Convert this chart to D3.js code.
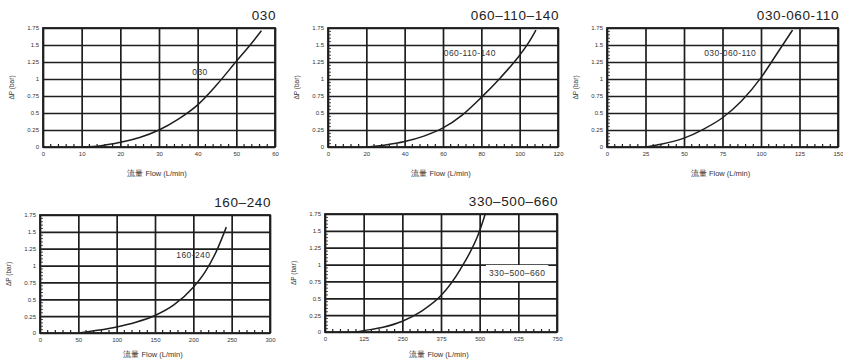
<!DOCTYPE html>
<html><head><meta charset="utf-8">
<script src="https://cdn.jsdelivr.net/npm/d3@7/dist/d3.min.js"></script>
<style>
html,body{margin:0;padding:0;background:#fff;}
svg{display:block;font-family:"Liberation Sans",Arial,sans-serif;}
</style></head>
<body><svg id="c" width="843" height="360"></svg>
<script>
// ---- data ----
const titles = ["030", "060–110–140", "030-060-110", "160–240", "330–500–660"];
const curveLabels = ["030", "060-110-140", "030-060-110", "160-240", "330–500–660"];
const yTicks = [0, 0.25, 0.5, 0.75, 1, 1.25, 1.5, 1.75];
const yTickLabels = ["0", "0.25", "0.5", "0.75", "1", "1.25", "1.5", "1.75"];
const xTicks030 = [0, 10, 20, 30, 40, 50, 60];
const xTicks060 = [0, 20, 40, 60, 80, 100, 120];
const xTicks110 = [0, 25, 50, 75, 100, 125, 150];
const xTicks160 = [0, 50, 100, 150, 200, 250, 300];
const xTicks330 = [0, 125, 250, 375, 500, 625, 750];
const flow030 = [10, 15, 20, 25, 30, 35, 40, 45, 50, 54, 56.5];
const dp030   = [0, 0.02, 0.07, 0.14, 0.25, 0.41, 0.62, 0.92, 1.26, 1.53, 1.71];
const flow060 = [20, 30, 40, 50, 60, 70, 80, 90, 100, 105, 108.5];
const dp060   = [0, 0.03, 0.08, 0.16, 0.28, 0.47, 0.73, 1.02, 1.35, 1.55, 1.72];
const flow110 = [25, 35, 50, 62.5, 75, 87.5, 100, 110, 120.5];
const dp110   = [0, 0.04, 0.13, 0.26, 0.43, 0.68, 1.02, 1.36, 1.72];
const flow160 = [50, 75, 100, 125, 150, 175, 200, 215, 230, 243];
const dp160   = [0, 0.04, 0.09, 0.16, 0.26, 0.42, 0.68, 0.9, 1.21, 1.57];
const flow330 = [100, 125, 187.5, 250, 312.5, 375, 437.5, 500, 518];
const dp330   = [0, 0.02, 0.07, 0.16, 0.31, 0.54, 0.93, 1.5, 1.75];
const xLabel = "流量 Flow (L/min)";
const yLabel = "ΔP (bar)";

// ---- layout ----
const panels = [
  {box:[43,275,28,147], xt:xTicks030, fx:flow030, dy:dp030, lab:[40.6,1.10], minorY:false, bg:false, xlOff:29},
  {box:[328,558,28,147], xt:xTicks060, fx:flow060, dy:dp060, lab:[74,1.38], minorY:true, bg:false, xlOff:29},
  {box:[607,838,28,147], xt:xTicks110, fx:flow110, dy:dp110, lab:[80,1.38], minorY:true, bg:false, xlOff:29},
  {box:[40,270,215,333], xt:xTicks160, fx:flow160, dy:dp160, lab:[200,1.16], minorY:true, bg:false, xlOff:24},
  {box:[325,557,214,332], xt:xTicks330, fx:flow330, dy:dp330, lab:[621,0.875], minorY:true, bg:true, xlOff:25}
];

const svg = d3.select("#c");
const ink = "#1e1e1e";

panels.forEach((p, i) => {
  const [l, r, t, b] = p.box;
  const x = d3.scaleLinear().domain([p.xt[0], p.xt[p.xt.length-1]]).range([l, r]);
  const y = d3.scaleLinear().domain([0, 1.75]).range([b, t]);
  const g = svg.append("g");

  // grid via axes
  const gx = g.append("g").attr("transform", `translate(0,${b})`)
    .call(d3.axisBottom(x).tickValues(p.xt).tickSize(-(b - t)).tickPadding(5).tickFormat(d3.format("d")));
  const gy = g.append("g").attr("transform", `translate(${l},0)`)
    .call(d3.axisLeft(y).tickValues(yTicks).tickSize(-(r - l)).tickPadding(4)
      .tickFormat((d, k) => yTickLabels[k]));
  [gx, gy].forEach(a => {
    a.select(".domain").remove();
    a.selectAll("line").attr("stroke", ink).attr("stroke-width", 1.7);
    a.selectAll("text").attr("fill", "#333").style("font-size", "6px");
  });

  // minor ticks
  const xs = p.xt[1] - p.xt[0];
  const minorX = d3.range(p.xt[0], p.xt[p.xt.length-1], xs / 5).filter((v, k) => k % 5 !== 0);
  g.append("g").selectAll("line").data(minorX).join("line")
    .attr("x1", d => x(d)).attr("x2", d => x(d)).attr("y1", b).attr("y2", b - 3)
    .attr("stroke", ink).attr("stroke-width", 1.2);
  if (p.minorY) {
    const minorYv = d3.range(0, 1.75, 0.05).filter((v, k) => k % 5 !== 0);
    g.append("g").selectAll("line").data(minorYv).join("line")
      .attr("x1", l).attr("x2", l + 3).attr("y1", d => y(d)).attr("y2", d => y(d))
      .attr("stroke", ink).attr("stroke-width", 0.8);
  }

  // frame
  g.append("rect").attr("x", l).attr("y", t).attr("width", r - l).attr("height", b - t)
    .attr("fill", "none").attr("stroke", ink).attr("stroke-width", 1.8);

  // curve label (with optional white backing)
  const bgRect = g.append("rect").attr("fill", "#fff");
  const lt = g.append("text").attr("x", x(p.lab[0])).attr("y", y(p.lab[1]))
    .attr("text-anchor", "middle").attr("dominant-baseline", "central")
    .attr("fill", "#333").style("font-size", "8.5px").style("letter-spacing", "0.4px")
    .text(curveLabels[i]);
  if (p.bg) {
    const bb = lt.node().getBBox();
    bgRect.attr("x", bb.x - 3).attr("y", bb.y - 3)
      .attr("width", bb.width + 6).attr("height", bb.height + 6);
  } else {
    bgRect.remove();
  }

  // curve
  const pts = p.fx.map((v, k) => [v, p.dy[k]]);
  g.append("path").datum(pts)
    .attr("d", d3.line().x(d => x(d[0])).y(d => y(d[1])).curve(d3.curveMonotoneX))
    .attr("fill", "none").attr("stroke", ink).attr("stroke-width", 1.5);

  // title
  g.append("text").attr("x", r + 1).attr("y", t - 8).attr("text-anchor", "end")
    .attr("fill", "#222").style("font-size", "13.5px").style("letter-spacing", "0.6px")
    .text(titles[i]);

  // axis titles
  g.append("text").attr("x", (l + r) / 2 - 2).attr("y", b + p.xlOff).attr("text-anchor", "middle")
    .attr("fill", "#333").style("font-size", "7.5px").text(xLabel);
  g.append("text").attr("transform", `translate(${l - 29},${(t + b) / 2}) rotate(-90)`)
    .attr("text-anchor", "middle").attr("fill", "#333").style("font-size", "6.5px").text(yLabel);
});
</script></body></html>
